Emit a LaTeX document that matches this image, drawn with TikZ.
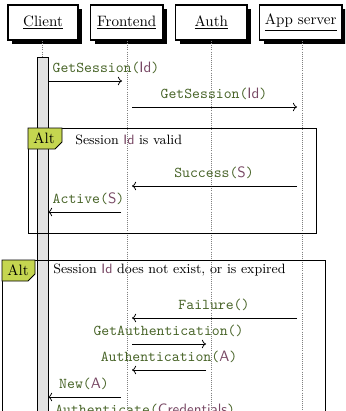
\documentclass[tikz,border=0pt]{standalone}
\usetikzlibrary{arrows.meta}
\definecolor{mgreen}{RGB}{72,100,40}
\definecolor{mpurple}{RGB}{120,72,100}
\definecolor{altfill}{RGB}{197,214,80}
\definecolor{actfill}{RGB}{226,226,226}
\newcommand{\mth}[1]{\textcolor{mgreen}{\texttt{#1}}}
\newcommand{\marg}[1]{\textcolor{mpurple}{\textsf{#1}}}
\begin{document}
\begin{tikzpicture}[x=0.665pt,y=-0.665pt,
  objbox/.style={draw,fill=white,thick},
  objshadow/.style={fill=black},
  lifeline/.style={gray,densely dotted,line width=0.4pt},
  msg/.style={->,line width=0.5pt},
  lbl/.style={inner sep=0pt,anchor=center},
  frame/.style={draw,line width=0.6pt},
  tag/.style={draw,fill=altfill,line width=0.5pt}]
\useasboundingbox (0,0) rectangle (345,411);
\clip (0,0) rectangle (345,411);
% headers
\foreach \l/\r/\n in {8/78/Client,90.5/163/Frontend,175.5/247/Auth,259.5/342/App server}{
  \fill[objshadow] (\l+4,9) rectangle (\r+4,44);
  \draw[objbox] (\l,5) rectangle (\r,40);
}
\node[lbl] (client) at (43,22.5) {\underline{Client}};
\node[lbl] (front) at (126.75,22.5) {\underline{Frontend}};
\node[lbl] (auth) at (211.25,22.5) {\underline{Auth}};
\node[lbl] (app) at (300.75,22.5) {\underline{App server}};
% lifelines
\coordinate (cl0) at (42,41); \coordinate (cl1) at (42,420);
\coordinate (fl0) at (127,41); \coordinate (fl1) at (127,420);
\coordinate (al0) at (211,41); \coordinate (al1) at (211,420);
\coordinate (sl0) at (302,41); \coordinate (sl1) at (302,420);
\draw[lifeline] (cl0) -- (cl1);
\draw[lifeline] (fl0) -- (fl1);
\draw[lifeline] (al0) -- (al1);
\draw[lifeline] (sl0) -- (sl1);
% activation
\draw[fill=actfill,line width=0.6pt] (37,57.5) rectangle (48,420);
% messages
\coordinate (m1a) at (48,81); \coordinate (m1b) at (122,81);
\draw[msg] (m1a) -- (m1b);
\node[lbl] (t1) at (106,68) {\mth{GetSession(}\marg{Id}\mth{)}};
\coordinate (m2a) at (132,107); \coordinate (m2b) at (297,107);
\draw[msg] (m2a) -- (m2b);
\node[lbl] (t2) at (214,93.5) {\mth{GetSession(}\marg{Id}\mth{)}};
% frame 1
\draw[frame] (28,128) rectangle (316,233);
\draw[tag] (28,128) -- (62,128) -- (62,142) -- (55,149) -- (28,149) -- cycle;
\node[lbl] (alt1) at (44,138.5) {Alt};
\node[lbl,anchor=west] (g1) at (75,139.5) {\small Session \marg{Id} is valid};
\coordinate (m3a) at (297,186); \coordinate (m3b) at (132,186);
\draw[msg] (m3a) -- (m3b);
\node[lbl] (t3) at (214,173) {\mth{Success(}\marg{S}\mth{)}};
\coordinate (m4a) at (121,212); \coordinate (m4b) at (48,212);
\draw[msg] (m4a) -- (m4b);
\node[lbl] (t4) at (88.5,199) {\mth{Active(}\marg{S}\mth{)}};
% frame 2
\draw[frame] (2,260) rectangle (325,430);
\draw[tag] (2,260) -- (35,260) -- (35,274) -- (28,281) -- (2,281) -- cycle;
\node[lbl] (alt2) at (18,270.5) {Alt};
\node[lbl,anchor=west] (g2) at (53,270.5) {\small Session \marg{Id} does not exist, or is expired};
\coordinate (m5a) at (297,318); \coordinate (m5b) at (132,318);
\draw[msg] (m5a) -- (m5b);
\node[lbl] (t5) at (214,304.5) {\mth{Failure()}};
\coordinate (m6a) at (132,344); \coordinate (m6b) at (206,344);
\draw[msg] (m6a) -- (m6b);
\node[lbl] (t6) at (168.5,330.5) {\mth{GetAuthentication()}};
\coordinate (m7a) at (206,370); \coordinate (m7b) at (132,370);
\draw[msg] (m7a) -- (m7b);
\node[lbl] (t7) at (169,357) {\mth{Authentication(}\marg{A}\mth{)}};
\coordinate (m8a) at (121,397); \coordinate (m8b) at (48,397);
\draw[msg] (m8a) -- (m8b);
\node[lbl] (t8) at (84,383.5) {\mth{New(}\marg{A}\mth{)}};
\node[lbl,anchor=west] (t9) at (55,410) {\mth{Authenticate(}\marg{Credentials}\mth{)}};
\end{tikzpicture}
\end{document}
